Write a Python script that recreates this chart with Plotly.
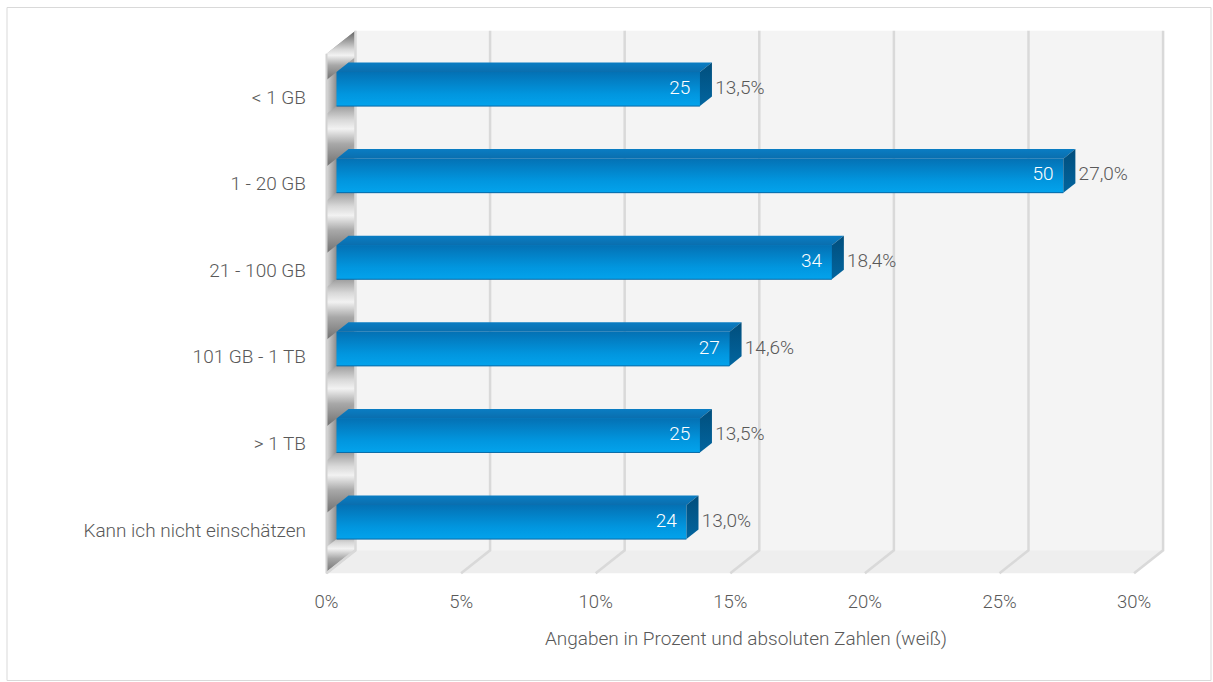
import plotly.graph_objects as go

# Storage size distribution (responses), share in percent and absolute counts
categories = ["< 1 GB", "1 - 20 GB", "21 - 100 GB", "101 GB - 1 TB", "> 1 TB",
              "Kann ich nicht einschätzen"]
counts = [25, 50, 34, 27, 25, 24]
shares = [13.5, 27.0, 18.4, 14.6, 13.5, 13.0]
x_ticks = [0, 5, 10, 15, 20, 25, 30]
x_tick_labels = ["0%", "5%", "10%", "15%", "20%", "25%", "30%"]
x_title = "Angaben in Prozent und absoluten Zahlen (weiß)"

# Canvas and plot-area geometry
W, H = 1213, 682
ML, MR, MT, MB = 312, 33, 20, 94
PW, PH = W - ML - MR, H - MT - MB
X_RANGE = [-0.5386, 31.705]
Y_RANGE = [5.6697, -0.8891]

# Oblique projection for the pseudo-3D box: full depth shifts right and up
DX, DY = 1.077, -0.2656
D_FRONT, D_BACK = 0.345, 0.76     # depth span of the bars
BAR_H = 0.393                     # bar thickness in category units
Y_LO, Y_HI = -0.5, len(categories) - 0.5
X_MAX = x_ticks[-1]

FONT = "Roboto"
TEXT_GREY = "#595959"


def proj(x, y, d):
    return x + d * DX, y + d * DY


def poly(points, axis="", **kw):
    xs = [p[0] for p in points] + [points[0][0]]
    ys = [p[1] for p in points] + [points[0][1]]
    return go.Scatter(x=xs, y=ys, mode="lines", fill="toself",
                      line=dict(width=0), hoverinfo="skip", showlegend=False,
                      xaxis="x" + axis, yaxis="y" + axis, **kw)


def line(points, color, width, axis=""):
    return go.Scatter(x=[p[0] for p in points], y=[p[1] for p in points],
                      mode="lines", line=dict(color=color, width=width),
                      hoverinfo="skip", showlegend=False,
                      xaxis="x" + axis, yaxis="y" + axis)


fig = go.Figure()

# ---- box: back wall, floor, left wall ----
fig.add_trace(poly([proj(0, Y_LO, 1), proj(X_MAX, Y_LO, 1),
                    proj(X_MAX, Y_HI, 1), proj(0, Y_HI, 1)],
                   fillcolor="#F4F4F4"))
fig.add_trace(poly([proj(0, Y_HI, 0), proj(X_MAX, Y_HI, 0),
                    proj(X_MAX, Y_HI, 1), proj(0, Y_HI, 1)],
                   fillcolor="#EEEEEE"))
fig.add_trace(poly([proj(0, Y_LO, 0), proj(0, Y_HI, 0),
                    proj(0, Y_HI, 1), proj(0, Y_LO, 1)],
                   fillcolor="#A8A8A8",
                   fillgradient=dict(type="horizontal",
                                     colorscale=[[0, "#D8D8D8"], [0.35, "#8C8C8C"],
                                                 [1, "#A8A8A8"]])))

# shaded bands on the left wall between the bars
gap_edges = [Y_LO] + [v for i in range(len(categories))
                      for v in (i - BAR_H / 2, i + BAR_H / 2)] + [Y_HI]
for k in range(0, len(gap_edges), 2):
    ya, yb = gap_edges[k], gap_edges[k + 1]
    fig.add_trace(poly([proj(0, ya, 0), proj(0, yb, 0), proj(0, yb, 1), proj(0, ya, 1)],
                       fillcolor="#9A9A9A",
                       fillgradient=dict(type="vertical",
                                         colorscale=[[0, "#707070"], [0.3, "#A8A8A8"],
                                                     [0.5, "#F2F2F2"], [0.62, "#D8D8D8"],
                                                     [1, "#5E5E5E"]])))

fig.add_trace(line([proj(0, Y_LO, 0), proj(0, Y_HI, 0), proj(0, Y_HI, 1)], "#D2D2D2", 2))

# grid lines: across the floor and up the back wall
for t in x_ticks:
    fig.add_trace(line([proj(t, Y_HI, 0), proj(t, Y_HI, 1), proj(t, Y_LO, 1)],
                       "#D9D9D9", 2.5))

# ---- bars (overlay subplot so they sit in front of the box) ----
bar_y = [i + D_FRONT * DY for i in range(len(categories))]
x0 = D_FRONT * DX
fig.add_trace(go.Bar(y=bar_y, x=shares, base=x0, orientation="h", width=BAR_H,
                     marker=dict(color="#0388D3", line=dict(width=0)),
                     hoverinfo="skip", showlegend=False, xaxis="x2", yaxis="y2"))

for i, s in enumerate(shares):
    top, bot = i - BAR_H / 2, i + BAR_H / 2
    yt, yb = top + D_FRONT * DY, bot + D_FRONT * DY
    # shaded front face
    fig.add_trace(poly([(x0, yt), (x0 + s, yt), (x0 + s, yb), (x0, yb)], axis="2",
                       fillcolor="#0388D3",
                       fillgradient=dict(type="vertical",
                                         colorscale=[[0, "#03A3EC"], [0.35, "#0196DF"],
                                                     [1, "#0471B4"]])))
    # top face
    fig.add_trace(poly([proj(0, top, D_FRONT), proj(s, top, D_FRONT),
                        proj(s, top, D_BACK), proj(0, top, D_BACK)], axis="2",
                       fillcolor="#0A78BD",
                       fillgradient=dict(type="vertical",
                                         colorscale=[[0, "#0A6EAE"], [1, "#0A7DC3"]])))
    # end face
    fig.add_trace(poly([proj(s, top, D_FRONT), proj(s, top, D_BACK),
                        proj(s, bot, D_BACK), proj(s, bot, D_FRONT)], axis="2",
                       fillcolor="#005C91",
                       fillgradient=dict(type="vertical",
                                         colorscale=[[0, "#02659F"], [1, "#014E7C"]])))
    fig.add_trace(line([(x0, yb), (x0 + s, yb)], "#0A6AA6", 1, axis="2"))

# counts inside the bars (white) and shares beside them
fig.add_trace(go.Scatter(x=[s + x0 - 0.36 for s in shares], y=bar_y, mode="text",
                         text=[str(c) for c in counts], textposition="middle left",
                         textfont=dict(family=FONT, size=19, color="white", weight=300),
                         hoverinfo="skip", showlegend=False, xaxis="x2", yaxis="y2"))
fig.add_trace(go.Scatter(x=[s + D_BACK * DX + 0.12 for s in shares], y=bar_y, mode="text",
                         text=[f"{s:.1f}%".replace(".", ",") for s in shares],
                         textposition="middle right",
                         textfont=dict(family=FONT, size=19, color=TEXT_GREY, weight=300),
                         hoverinfo="skip", showlegend=False, xaxis="x2", yaxis="y2"))

# outer frame
fig.add_shape(type="rect", xref="paper", yref="paper",
              x0=(7 - ML) / PW, x1=(1211 - ML) / PW,
              y0=(H - MB - 680.5) / PH, y1=(H - MB - 7.5) / PH,
              line=dict(color="#D9D9D9", width=1), layer="below")

axis_common = dict(showgrid=False, zeroline=False, showline=False, ticks="")
fig.update_layout(
    width=W, height=H,
    margin=dict(l=ML, r=MR, t=MT, b=MB, pad=0),
    paper_bgcolor="white", plot_bgcolor="white",
    font=dict(family=FONT, color=TEXT_GREY, weight=300),
    showlegend=False,
    xaxis=dict(range=X_RANGE, tickvals=x_ticks, ticktext=x_tick_labels,
               tickfont=dict(family=FONT, size=18.5, color=TEXT_GREY, weight=300),
               title=dict(text=x_title, standoff=20,
                          font=dict(family=FONT, size=19, color=TEXT_GREY, weight=300)),
               **axis_common),
    yaxis=dict(range=Y_RANGE, tickvals=list(range(len(categories))), ticktext=categories,
               tickfont=dict(family=FONT, size=19, color=TEXT_GREY, weight=300),
               ticklabelstandoff=5, **axis_common),
    xaxis2=dict(range=X_RANGE, overlaying="x", anchor="y2", visible=False, **axis_common),
    yaxis2=dict(range=Y_RANGE, overlaying="y", anchor="x2", visible=False, **axis_common),
    bargap=0,
)

fig.write_html("out.html")
